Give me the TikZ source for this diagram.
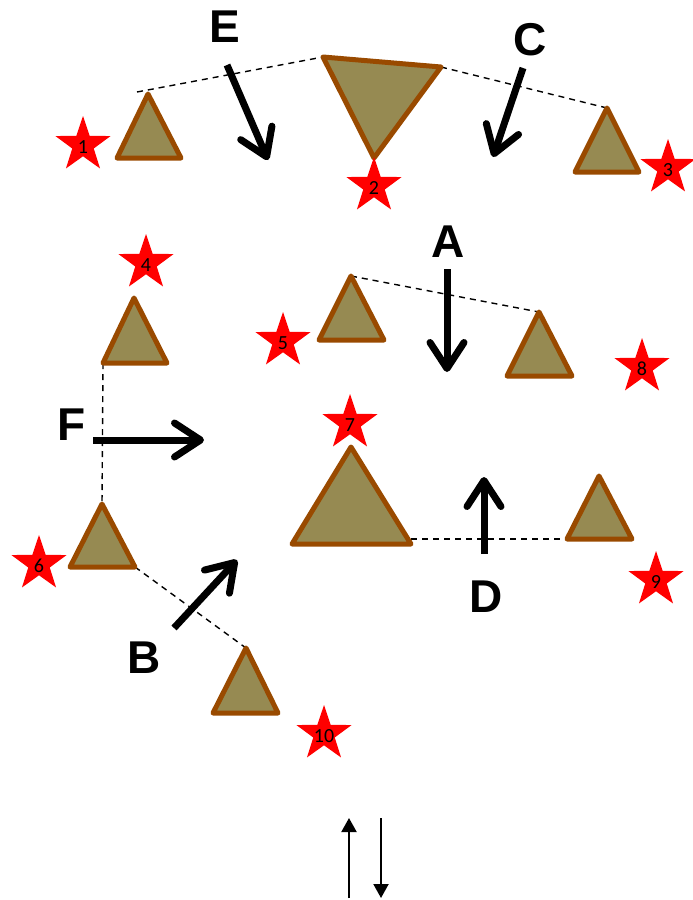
\documentclass[tikz,border=0pt]{standalone}
\usepackage{fontspec}
\setmainfont{Liberation Sans}
\newfontfamily\numfont{Carlito}
\usetikzlibrary{arrows.meta}
\definecolor{trifill}{RGB}{150,138,82}
\definecolor{tristroke}{RGB}{153,74,0}
\tikzset{
  tri/.style={draw=tristroke, fill=trifill, line width=5pt, line join=round},
  redstar/.pic={\fill[red] (270:29) -- (306:11.3) -- (342:29) -- (18:11.3) -- (54:29) -- (90:11.3)
     -- (126:29) -- (162:11.3) -- (198:29) -- (234:11.3) -- cycle;},
  numtext/.style={inner sep=0pt, font=\numfont\fontsize{20}{20}\selectfont},
  dashline/.style={dash pattern=on 6pt off 5pt, line width=1.4pt},
  bigarrow/.style={line width=7pt, -{Straight Barb[length=26pt,width=34pt,round]}},
  lbl/.style={font=\bfseries\fontsize{46}{46}\selectfont, inner sep=0pt},
  smallarrow/.style={line width=2pt, -{Triangle[length=14pt,width=15pt]}},
}
\begin{document}
\begin{tikzpicture}[x=1pt,y=-1pt]
\useasboundingbox (0,0) rectangle (693,900);
% triangle vertices
\coordinate (t1a) at (148,94);  \coordinate (t1b) at (117,158); \coordinate (t1c) at (181,158);
\coordinate (t2a) at (323,57);  \coordinate (t2b) at (441,67);  \coordinate (t2c) at (374,158);
\coordinate (t3a) at (607,108); \coordinate (t3b) at (575,172); \coordinate (t3c) at (639,172);
\coordinate (t4a) at (134,298); \coordinate (t4b) at (103,363); \coordinate (t4c) at (167,363);
\coordinate (t5a) at (351,276); \coordinate (t5b) at (319,340); \coordinate (t5c) at (384,340);
\coordinate (t8a) at (539,312); \coordinate (t8b) at (507,376); \coordinate (t8c) at (572,376);
\coordinate (t7a) at (351,447); \coordinate (t7b) at (292,544); \coordinate (t7c) at (411,544);
\coordinate (t9a) at (599,476); \coordinate (t9b) at (567,539); \coordinate (t9c) at (632,539);
\coordinate (t6a) at (102,504); \coordinate (t6b) at (70,567);  \coordinate (t6c) at (135,567);
\coordinate (t10a) at (246,648); \coordinate (t10b) at (213,713); \coordinate (t10c) at (278,713);
\coordinate (d1) at (137,92);
\coordinate (d2) at (411,539);
% dashed lines
\draw[dashline] (d1) -- (t2a);
\draw[dashline] (t2b) -- (t3a);
\draw[dashline] (t5a) -- (t8a);
\draw[dashline] (t4b) -- (t6a);
\draw[dashline] (t6c) -- (t10a);
\draw[dashline] (d2) -- (t9b);
% triangles
\foreach \t in {t1,t2,t3,t4,t5,t8,t7,t9,t6,t10}
  \draw[tri] (\t a) -- (\t b) -- (\t c) -- cycle;
% stars
\foreach \n/\x/\y in {1/83/145, 2/374/186, 3/668/168, 4/146/263, 5/283/341,
                      7/350/423, 8/642/367, 6/39/564, 9/656/580, 10/324/734}{
  \pic at (\x,\y) {redstar};
  \node[numtext] (s\n) at (\x,\y+2) {\n};
}
% labels
\node[lbl] (E) at (225,27) {E};
\node[lbl] (C) at (530,40) {C};
\node[lbl] (A) at (448,242) {A};
\node[lbl] (F) at (72,425) {F};
\node[lbl] (D) at (486,597) {D};
\node[lbl] (B) at (144,658) {B};
% big arrows
\coordinate (Es) at (227,65);  \coordinate (Ee) at (268,160);
\coordinate (Cs) at (523,68);  \coordinate (Ce) at (493,157);
\coordinate (As) at (447,269); \coordinate (Ae) at (447,372);
\coordinate (Fs) at (93,440);  \coordinate (Fe) at (204,440);
\coordinate (Ds) at (484,554); \coordinate (De) at (484,477);
\coordinate (Bs) at (174,628); \coordinate (Be) at (237,560);
\draw[bigarrow] (Es) -- (Ee);
\draw[bigarrow] (Cs) -- (Ce);
\draw[bigarrow] (As) -- (Ae);
\draw[bigarrow] (Fs) -- (Fe);
\draw[bigarrow] (Ds) -- (De);
\draw[bigarrow] (Bs) -- (Be);
% small arrows
\coordinate (u1) at (349,898); \coordinate (u2) at (349,818);
\coordinate (v1) at (381,818); \coordinate (v2) at (381,898);
\draw[smallarrow] (u1) -- (u2);
\draw[smallarrow] (v1) -- (v2);
\end{tikzpicture}
\end{document}
